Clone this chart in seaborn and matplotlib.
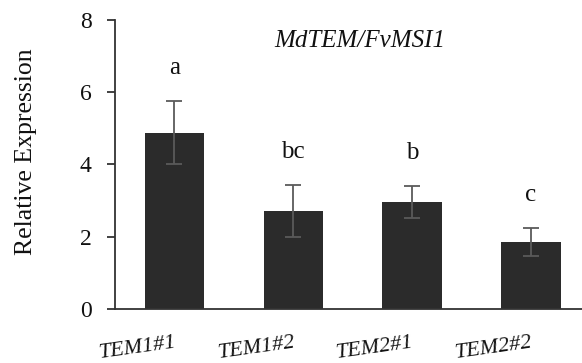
import matplotlib
matplotlib.use("Agg")
import matplotlib.pyplot as plt
import seaborn as sns
import pandas as pd

# Relative expression of MdTEM in transgenic strawberry lines
lines = ["TEM1#1", "TEM1#2", "TEM2#1", "TEM2#2"]
expression = [4.88, 2.72, 2.96, 1.86]
std_err = [0.87, 0.72, 0.44, 0.38]
groups = ["a", "bc", "b", "c"]

df = pd.DataFrame({"line": lines, "expr": expression})

sns.set_style("ticks")
plt.rcParams["font.family"] = ["Liberation Serif", "DejaVu Serif"]

fig = plt.figure(figsize=(5.82, 3.63), dpi=100)
ax = fig.add_axes([0.1976, 0.148, 0.8024, 0.798])

sns.barplot(data=df, x="line", y="expr", color="#2b2b2b", saturation=1,
            width=0.5, errorbar=None, ax=ax, edgecolor="none")
ax.errorbar(range(len(lines)), expression, yerr=std_err, fmt="none",
            ecolor="#5a5a5a", elinewidth=1.3, capsize=6, capthick=1.3)

# significance letters above the error bars
for i, (m, e, g) in enumerate(zip(expression, std_err, groups)):
    ax.text(i, m + e + 0.75, g, ha="center", va="baseline", fontsize=18,
            color="#111111")

ax.set_ylim(0, 8)
ax.set_yticks([0, 2, 4, 6, 8])
ax.set_xlim(-0.5, 3.43)
ax.set_xlabel("")
ax.set_ylabel("Relative Expression", fontsize=18.5, color="#111111")
ax.yaxis.set_label_coords(-0.168, 0.545)
ax.text(1.56, 7.4, "MdTEM/FvMSI1", style="italic", fontsize=18,
        ha="center", va="center", color="#111111")

ax.set_xticks(range(len(lines)))
ax.set_xticklabels(lines, rotation=8, ha="right", rotation_mode="anchor",
                   fontsize=16, style="italic", color="#111111")
ax.tick_params(axis="x", length=0, pad=17)
ax.tick_params(axis="y", length=6, width=1.3, pad=11, labelsize=17,
               color="#333333", labelcolor="#111111")

sns.despine(ax=ax)
for s in ("left", "bottom"):
    ax.spines[s].set_linewidth(1.3)
    ax.spines[s].set_color("#333333")

fig.savefig("out.png", dpi=100)
